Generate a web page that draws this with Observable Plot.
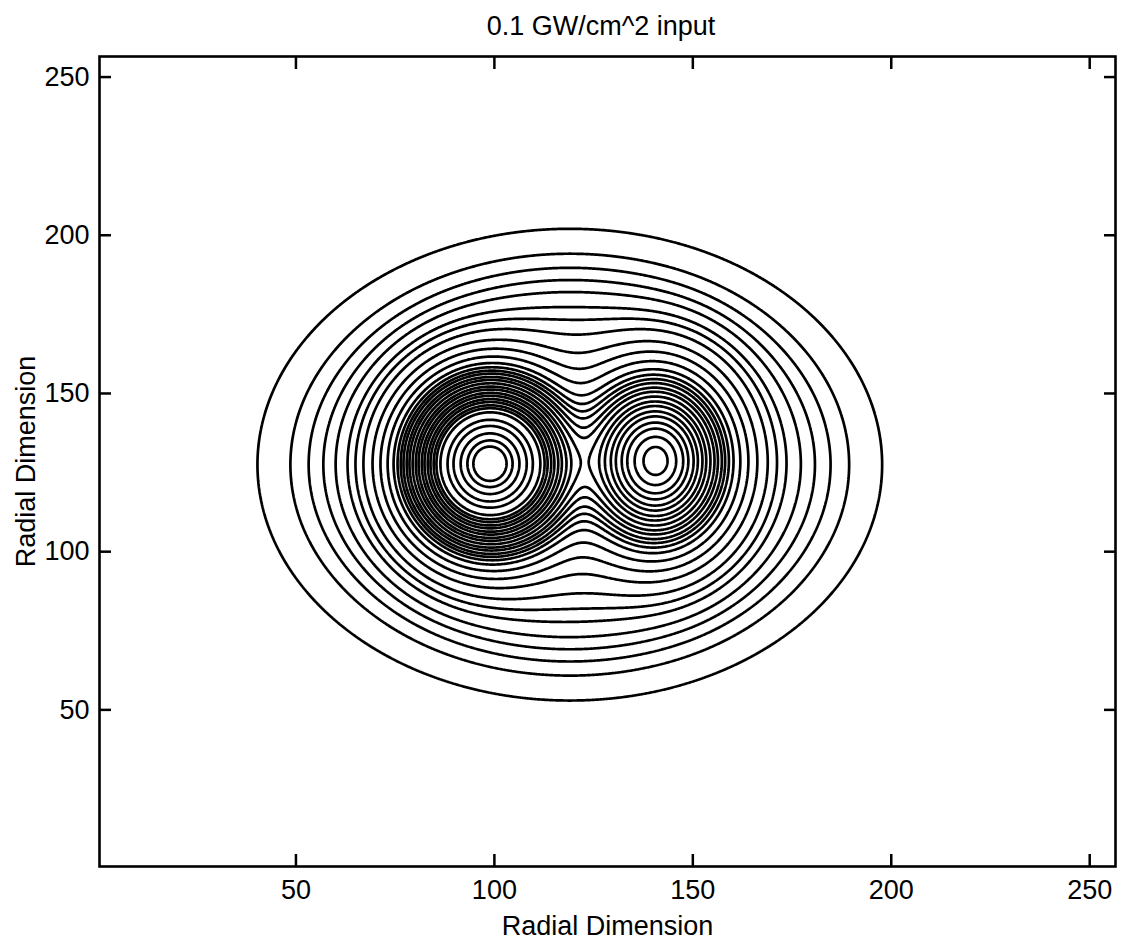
<!DOCTYPE html>
<html>
<head>
<meta charset="utf-8">
<script src="https://cdn.jsdelivr.net/npm/d3@7"></script>
<script src="https://cdn.jsdelivr.net/npm/@observablehq/plot@0.6"></script>
<style>
  body { margin: 0; background: #fff; font-family: "Liberation Sans", Arial, sans-serif; }
  #wrap { position: relative; width: 1122px; height: 944px; }
  #title { position: absolute; top: 0; left: 0; width: 1122px; height: 44px; }
  #title span { position: absolute; left: 601px; top: 13px; transform: translateX(-50%); font-size: 27px; line-height: 27px; white-space: nowrap; color: #000; }
  #chart { position: absolute; top: 44px; left: 0; }
</style>
</head>
<body>
<div id="wrap">
  <div id="title"><span>0.1 GW/cm^2 input</span></div>
  <div id="chart"></div>
</div>
<script>
// Axis ticks and extent of the 256x256 grid
const xTicks = [50, 100, 150, 200, 250];
const yTicks = [50, 100, 150, 200, 250];
const gridExtent = [0.5, 256.5];

// Field model: broad background + two peaks (centres/widths)
const compName = ["background", "left peak", "right peak"];
const compX   = [119.0, 98.8, 140.8];
const compY   = [127.5, 127.8, 128.7];
const compSx  = [28.4, 10.0, 9.5];
const compSy  = [26.9, 13.0, 14.0];
const compAmp = [1.0, 25.0, 10.45];

// Where each contour crosses the horizontal line through the left peak
const crossY = 127.8;
const crossX = [40.3, 48.6, 53.2, 56.9, 60.0, 63.0, 65.0, 67.0, 69.3, 71.3, 73.1, 74.6,
                75.6, 76.4, 77.1, 77.9, 78.6, 79.4, 80.2, 80.9, 81.7, 82.4, 83.2, 83.9, 84.7, 85.4,
                86.4, 88.2, 89.7, 91.5, 93.2, 94.7];

function field(x, y) {
  let s = 0;
  for (let i = 0; i < compX.length; i++) {
    const dx = (x - compX[i]) / compSx[i];
    const dy = (y - compY[i]) / compSy[i];
    s += compAmp[i] * Math.exp(-0.5 * (dx * dx + dy * dy));
  }
  return s;
}
const levels = crossX.map(x => field(x, crossY));

const font = "Liberation Sans, Arial, Helvetica, sans-serif";
const chart = Plot.plot({
  width: 1122,
  height: 900,
  marginLeft: 99,
  marginRight: 7,
  marginTop: 12,
  marginBottom: 78,
  x: { domain: gridExtent },
  y: { domain: gridExtent },
  style: { fontFamily: font, fontSize: "27px", color: "black", background: "white", overflow: "visible" },
  marks: [
    Plot.contour({
      value: field,
      x1: gridExtent[0], x2: gridExtent[1], y1: gridExtent[0], y2: gridExtent[1],
      thresholds: levels,
      stroke: "black", fill: "none", strokeWidth: 2.7, pixelSize: 1
    }),
    Plot.frame({ stroke: "black", strokeWidth: 2.6 }),
    Plot.axisX(xTicks, { anchor: "bottom", tickSize: -12, tickPadding: 25, strokeWidth: 2.5, fontSize: 27,
      label: "Radial Dimension", labelAnchor: "center", labelOffset: 68, labelArrow: "none" }),
    Plot.axisX(xTicks, { anchor: "top", tickSize: -12, strokeWidth: 2.5, tickFormat: () => "", label: null }),
    Plot.axisY(yTicks, { anchor: "left", tickSize: -12, tickPadding: 22, strokeWidth: 2.5, fontSize: 27,
      label: "Radial Dimension", labelAnchor: "center", labelOffset: 84, labelArrow: "none" }),
    Plot.axisY(yTicks, { anchor: "right", tickSize: -12, strokeWidth: 2.5, tickFormat: () => "", label: null })
  ]
});
document.getElementById("chart").appendChild(chart);
</script>
</body>
</html>
